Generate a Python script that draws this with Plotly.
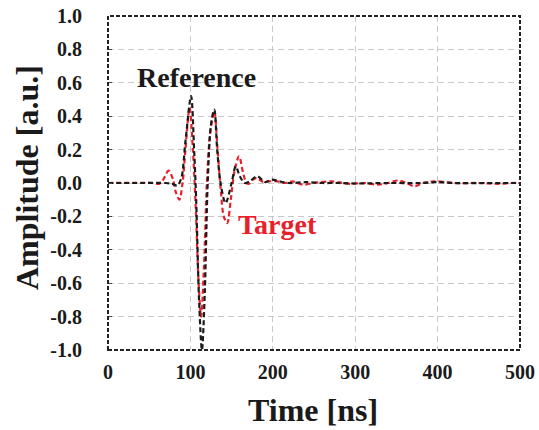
import plotly.graph_objects as go

# Reference waveform (black)
ref_t = [0, 40, 70, 78, 84, 89, 94, 100.8, 104.5, 107, 110.5, 114, 117.5, 121, 125, 129, 132.5,
         136.6, 142.7, 150, 155, 160, 166, 172, 181, 191, 199, 208, 220, 240, 260, 280, 300,
         340, 380, 400, 420, 460, 500]
ref_a = [0, 0, 0, -0.005, -0.015, 0.03, 0.25, 0.52, 0.2, -0.1, -0.7, -1.0, -0.65, 0.0, 0.35, 0.44, 0.2,
         0.0, -0.12, 0.0, 0.10, 0.04, 0.0, 0.01, 0.04, 0.005, 0.02, 0.01, 0.0, 0.005, 0.0, 0.0, -0.003,
         0.0, 0.0, 0.005, 0.0, 0.0, 0.0]

# Target waveform (red)
tgt_t = [0, 55, 62, 67, 73.5, 79, 82, 86.6, 90.5, 94, 99, 103, 106.5, 110, 113, 116.5, 120, 124,
         129, 133, 137, 140.5, 144.7, 149, 153.5, 159, 164, 168, 171, 176, 181, 187, 195, 206, 215,
         224, 236, 250, 271, 285, 295, 310, 328, 340, 352, 362, 372, 382, 397, 420, 450, 474, 490, 500]
tgt_a = [0, 0, -0.005, 0.02, 0.074, 0.02, -0.05, -0.10, 0.0, 0.2, 0.45, 0.2, -0.15, -0.6, -0.80, -0.5,
         0.0, 0.3, 0.43, 0.2, -0.05, -0.2, -0.24, -0.1, 0.07, 0.16, 0.06, 0.0, -0.005, 0.02, 0.03, 0.01,
         0.01, 0.01, 0.0, 0.01, -0.01, 0.0, 0.01, 0.0, -0.005, 0.0, -0.01, 0.0, 0.015, 0.0, -0.02, 0.0,
         0.01, 0.0, 0.0, -0.005, 0.0, 0.0]

x_ticks = [0, 100, 200, 300, 400, 500]
y_ticks = [1.0, 0.8, 0.6, 0.4, 0.2, 0.0, -0.2, -0.4, -0.6, -0.8, -1.0]
y_tick_text = ["%.1f" % v for v in y_ticks]

FONT = "Liberation Serif"
INK = "#1a1a1a"
RED = "#e8202a"

L, T, PW, PH = 108, 16, 412, 334

fig = go.Figure()
fig.add_trace(go.Scatter(x=tgt_t, y=tgt_a, mode="lines",
                         line=dict(color=RED, width=2.2, dash="5px,3px", shape="spline", smoothing=0.9),
                         showlegend=False))
fig.add_trace(go.Scatter(x=ref_t, y=ref_a, mode="lines",
                         line=dict(color=INK, width=2.2, dash="5px,3px", shape="spline", smoothing=0.9),
                         showlegend=False))

fig.add_annotation(x=108, y=0.63, xref="x", yref="y", text="<b>Reference</b>", showarrow=False,
                   font=dict(family=FONT, size=28, color=INK))
fig.add_annotation(x=206, y=-0.25, xref="x", yref="y", text="<b>Target</b>", showarrow=False,
                   font=dict(family=FONT, size=28, color=RED))

# axis titles as annotations (placed relative to the plot area)
fig.add_annotation(x=(313 - L) / PW, y=-(410 - (T + PH)) / PH, xref="paper", yref="paper",
                   text="<b>Time [ns]</b>", showarrow=False, xanchor="center", yanchor="middle",
                   font=dict(family=FONT, size=32, color=INK))
fig.add_annotation(x=-(L - 27) / PW, y=((T + PH) - 178) / PH, xref="paper", yref="paper",
                   text="<b>Amplitude [a.u.]</b>", showarrow=False, textangle=-90,
                   xanchor="center", yanchor="middle",
                   font=dict(family=FONT, size=32, color=INK))

fig.add_shape(type="rect", xref="paper", yref="paper", x0=0, y0=0, x1=1, y1=1,
              line=dict(color="#222222", width=2, dash="4px,2px"), layer="above")

tickfont = dict(family=FONT, size=20, color=INK, weight="bold")

fig.update_layout(
    width=539, height=430,
    margin=dict(l=L, r=539 - L - PW, t=T, b=430 - T - PH, autoexpand=False),
    paper_bgcolor="white", plot_bgcolor="white",
    font=dict(family=FONT, color=INK),
    xaxis=dict(range=[0, 500], tickvals=x_ticks, ticks="", showline=False, zeroline=False,
               showgrid=True, gridcolor="#c8c8c8", griddash="6px,4px", gridwidth=1,
               tickfont=tickfont, ticklabelstandoff=8, automargin=False),
    yaxis=dict(range=[-1.0, 1.0], tickvals=y_ticks, ticktext=y_tick_text, ticks="inside", ticklen=4,
               tickcolor="#444444", showline=False, zeroline=False,
               showgrid=True, gridcolor="#c8c8c8", griddash="6px,4px", gridwidth=1,
               tickfont=tickfont, ticklabelstandoff=25, automargin=False),
)

fig.write_html("out.html", config={"displayModeBar": False},
               post_script="document.body.style.margin='0';")
